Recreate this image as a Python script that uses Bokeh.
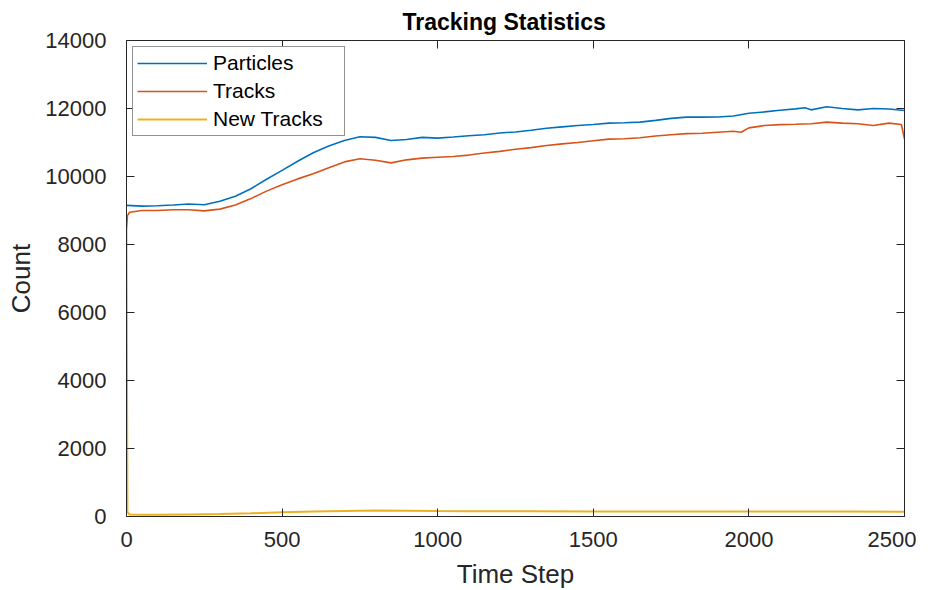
from bokeh.plotting import figure
from bokeh.models import Range1d, LinearAxis, FixedTicker, Legend, LegendItem
from bokeh.embed import file_html
from bokeh.resources import INLINE

# ---- data ----
part_steps = [0, 50, 100, 150, 200, 250, 300, 350, 400, 450, 500, 550, 600, 650, 700,
              750, 800, 850, 900, 950, 1000, 1050, 1100, 1150, 1200, 1250, 1300, 1350,
              1400, 1450, 1500, 1550, 1600, 1650, 1700, 1750, 1800, 1850, 1900, 1950,
              2000, 2050, 2100, 2150, 2180, 2200, 2250, 2300, 2350, 2400, 2450, 2500]
particles = [9150, 9130, 9140, 9160, 9190, 9170, 9270, 9420, 9640, 9920, 10180, 10450,
             10700, 10900, 11060, 11170, 11150, 11060, 11090, 11150, 11130, 11160, 11200,
             11230, 11280, 11310, 11360, 11420, 11460, 11500, 11530, 11570, 11580, 11600,
             11650, 11710, 11745, 11745, 11750, 11780, 11860, 11900, 11950, 11990, 12020,
             11960, 12050, 12000, 11960, 12000, 11985, 11940]

track_steps = [0, 3, 10, 50, 100, 150, 200, 250, 300, 350, 400, 450, 500, 550, 600, 650,
               700, 750, 800, 850, 900, 950, 1000, 1050, 1100, 1150, 1200, 1250, 1300,
               1350, 1400, 1450, 1500, 1550, 1600, 1650, 1700, 1750, 1800, 1850, 1900,
               1950, 1975, 2000, 2050, 2100, 2150, 2200, 2250, 2300, 2350, 2400, 2450,
               2490, 2500]
tracks = [8450, 8850, 8950, 9000, 9000, 9020, 9020, 8990, 9040, 9160, 9350, 9570, 9760,
          9930, 10080, 10260, 10430, 10520, 10480, 10400, 10490, 10540, 10565, 10590,
          10630, 10690, 10740, 10800, 10850, 10910, 10960, 11000, 11050, 11100, 11110,
          11140, 11190, 11230, 11260, 11270, 11300, 11330, 11300, 11430, 11500, 11525,
          11535, 11550, 11600, 11570, 11550, 11500, 11570, 11530, 11100]

new_steps = [0, 3, 10, 50, 100, 200, 300, 400, 500, 600, 700, 800, 900, 1000, 1100,
             1200, 1300, 1500, 1700, 1900, 2100, 2300, 2500]
new_tracks = [8450, 130, 60, 50, 50, 60, 70, 95, 125, 150, 165, 175, 170, 160, 157,
              157, 155, 150, 148, 147, 147, 145, 140]

x_ticks = [0, 500, 1000, 1500, 2000, 2500]
y_ticks = [0, 2000, 4000, 6000, 8000, 10000, 12000, 14000]

FONT = "Liberation Sans"
AX = "#262626"

p = figure(output_backend="svg", toolbar_location=None,
           frame_width=778, frame_height=476,
           x_range=Range1d(0, 2500), y_range=Range1d(0, 14000),
           min_border_left=126, min_border_right=12, min_border_top=40,
           min_border_bottom=66, title="Tracking Statistics")
p.background_fill_color = "white"
p.border_fill_color = "white"
p.outline_line_color = None
p.grid.visible = False

p.title.align = "left"
p.title.offset = 276
p.title.text_font = FONT
p.title.text_font_size = "23px"
p.title.text_font_style = "bold"
p.title.text_color = "black"
p.title.standoff = 12

for ax in (p.xaxis[0], p.yaxis[0]):
    ax.axis_line_color = AX
    ax.major_tick_line_color = AX
    ax.major_tick_in = 8
    ax.major_tick_out = 0
    ax.minor_tick_line_color = None
    ax.major_label_text_font = FONT
    ax.major_label_text_font_size = "22px"
    ax.major_label_text_color = AX
    ax.axis_label_text_font = FONT
    ax.axis_label_text_font_size = "26px"
    ax.axis_label_text_font_style = "normal"
    ax.axis_label_text_color = AX

p.xaxis[0].ticker = FixedTicker(ticks=x_ticks)
p.yaxis[0].ticker = FixedTicker(ticks=y_ticks)
p.xaxis[0].axis_label = "Time Step"
p.yaxis[0].axis_label = "Count"
p.xaxis[0].major_label_standoff = 15
p.yaxis[0].major_label_standoff = 20
p.xaxis[0].axis_label_standoff = 9
p.yaxis[0].axis_label_standoff = 6

top = LinearAxis(ticker=FixedTicker(ticks=x_ticks))
right = LinearAxis(ticker=FixedTicker(ticks=y_ticks))
for ax in (top, right):
    ax.axis_line_color = AX
    ax.major_tick_line_color = AX
    ax.major_tick_in = 8
    ax.major_tick_out = 0
    ax.minor_tick_line_color = None
    ax.major_label_text_font_size = "0px"
    ax.major_label_text_color = None
    ax.major_label_standoff = 0
p.add_layout(top, "above")
p.add_layout(right, "right")

r1 = p.line(part_steps, particles, line_color="#0072BD", line_width=1.6)
r2 = p.line(track_steps, tracks, line_color="#D95319", line_width=1.6)
r3 = p.line(new_steps, new_tracks, line_color="#EDB120", line_width=2)

legend = Legend(items=[LegendItem(label="Particles", renderers=[r1]),
                       LegendItem(label="Tracks", renderers=[r2]),
                       LegendItem(label="New Tracks", renderers=[r3])],
                location="top_left")
legend.label_text_font = FONT
legend.label_text_font_size = "21px"
legend.label_text_color = "black"
legend.glyph_width = 70
legend.glyph_height = 22
legend.label_height = 22
legend.label_width = 127
legend.spacing = 4
legend.padding = 4
legend.margin = 6
legend.label_standoff = 6
legend.border_line_color = AX
legend.border_line_width = 1
legend.background_fill_alpha = 1
p.add_layout(legend)

open("out.html", "w").write(file_html(p, INLINE))
